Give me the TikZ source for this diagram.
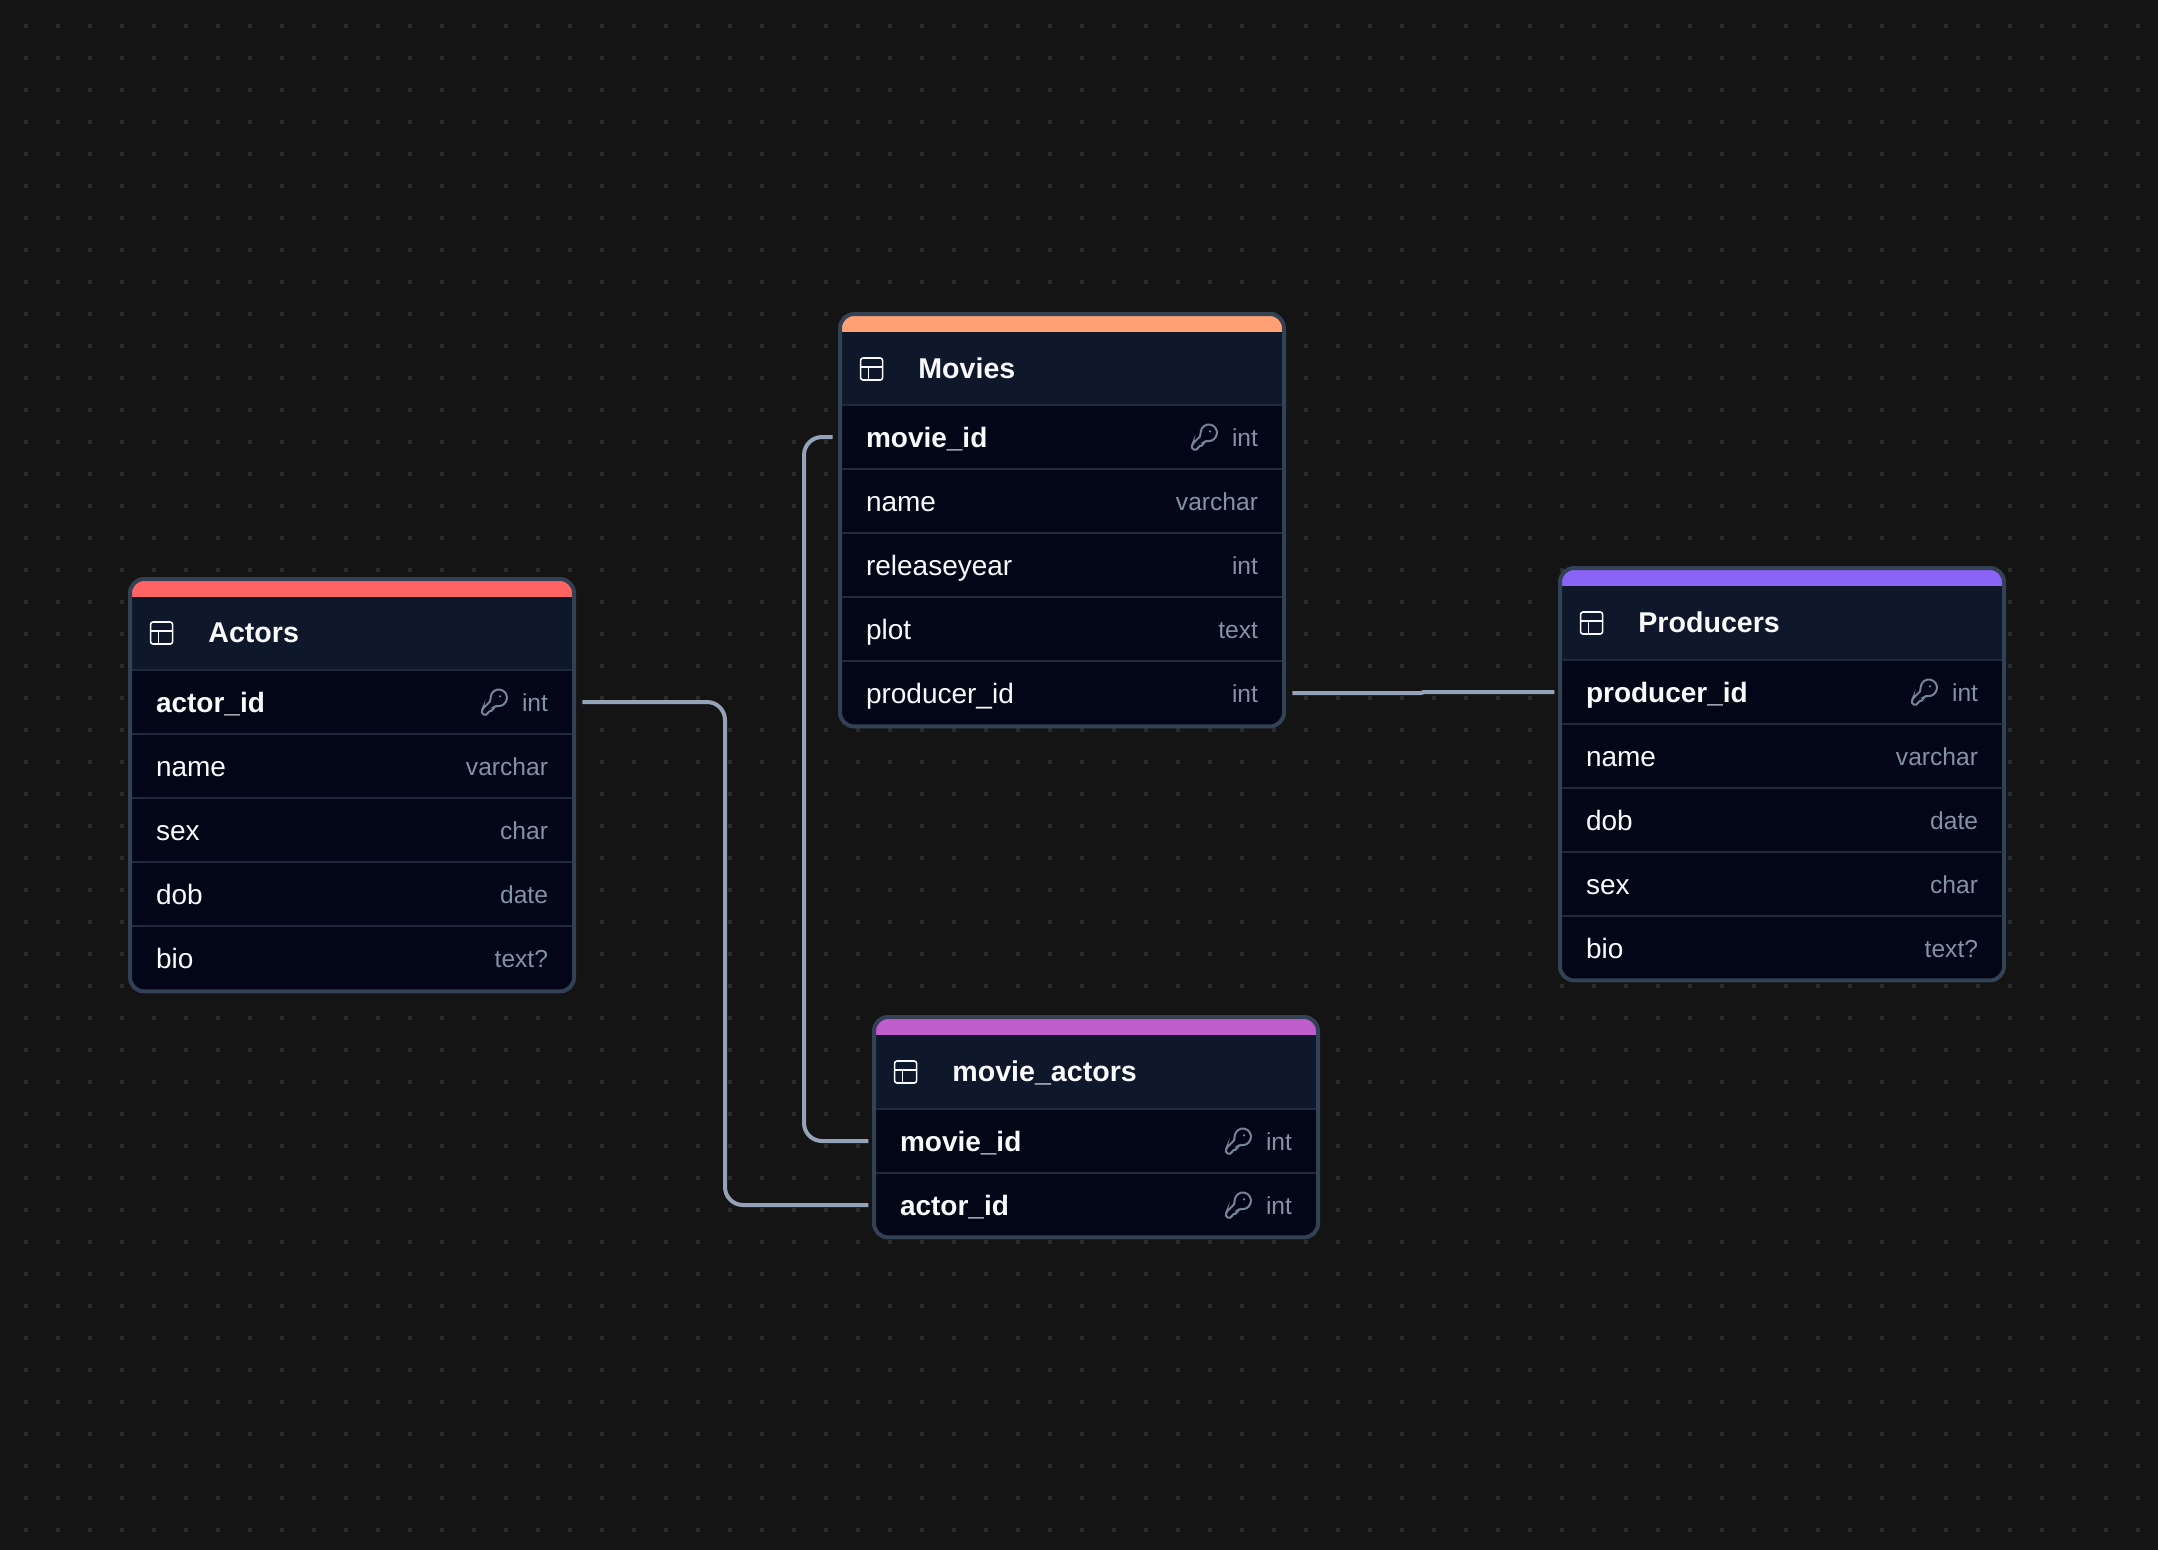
\documentclass[tikz,border=0pt]{standalone}
\usepackage{fontspec}
\setmainfont{Liberation Sans}
\definecolor{canvasbg}{HTML}{141414}
\definecolor{gridgray}{HTML}{2B2B2B}
\definecolor{rowbg}{HTML}{020617}
\definecolor{headbg}{HTML}{0F172A}
\definecolor{frameline}{HTML}{334155}
\definecolor{rowline}{HTML}{1E293B}
\definecolor{relline}{HTML}{94A3B8}
\definecolor{typegray}{HTML}{8492A6}
\definecolor{iconkey}{HTML}{76849A}
\definecolor{namewhite}{HTML}{F8FAFC}
\definecolor{acRed}{HTML}{FF6363}
\definecolor{acOrange}{HTML}{FF9F74}
\definecolor{acViolet}{HTML}{8B63F6}
\definecolor{acPink}{HTML}{C05CCC}
\tikzset{
  keyicon/.pic={
    \begin{scope}[x=.625pt,y=-.625pt,shift={(-12,-12)},draw=iconkey,line width=1pt,rounded corners=.9pt]
      \draw (2.6,17.4) -- (2,18.8) -- (2,22) -- (7,22) -- (7,19) -- (11,19) -- (11,16)
        -- (13,15.6) -- (14.4,14.9) arc[start angle=100,end angle=-199,radius=6.5] -- cycle;
      \fill[iconkey] (16.5,7.5) circle[radius=1];
    \end{scope}
  },
  tableicon/.pic={
    \draw[namewhite,line width=.8pt,rounded corners=1.2pt] (-11,-11) rectangle (11,11);
    \draw[namewhite,line width=.8pt] (-11,-2) -- (11,-2) (-3,-2) -- (-3,11);
  }
}
\begin{document}
\begin{tikzpicture}[x=.5pt,y=-.5pt,
    tbl/.style={draw=frameline,fill=rowbg,line width=2pt,rounded corners=7pt,
      minimum width=222pt,inner sep=0pt,
      path picture={
        \fill[headbg,sharp corners] (path picture bounding box.north west) rectangle
          ([yshift=-45.5pt]path picture bounding box.north east);
        \fill[#1,sharp corners] (path picture bounding box.north west) rectangle
          ([yshift=-8.75pt]path picture bounding box.north east);}},
    fieldrow/.style={minimum width=224pt,minimum height=32pt,inner sep=0pt},
    headrow/.style={minimum width=224pt,minimum height=36pt,inner sep=0pt},
    title/.style={anchor=base west,inner sep=0pt,text=namewhite,font=\fontsize{14.3}{16}\selectfont\bfseries},
    keyname/.style={anchor=base west,inner sep=0pt,text=namewhite,font=\fontsize{14}{16}\selectfont\bfseries},
    fieldname/.style={anchor=base west,inner sep=0pt,text=namewhite,font=\fontsize{14}{16}\selectfont},
    fieldtype/.style={anchor=base east,inner sep=0pt,text=typegray,font=\fontsize{12.3}{14}\selectfont},
    sep/.style={draw=rowline,line width=1pt,shorten <=2pt,shorten >=2pt},
    rel/.style={draw=relline,line width=2pt,rounded corners=9pt,shorten <=3pt,shorten >=1.6pt}]

  % the canvas and its dots
  \useasboundingbox (0,0) rectangle (2158,1549);
  \fill[canvasbg] (-4,-4) rectangle (2162,1553);
  \foreach \i in {0,...,66}
    \foreach \j in {0,...,47}
      \fill[gridgray] (24+32*\i,24+32*\j) rectangle ++(4,4);

  % the frames
  \node[tbl=acRed,minimum height=206.2pt] (actors) at (352,785.2) {};
  \node[tbl=acOrange,minimum height=206.2pt] (movies) at (1062,520.2) {};
  \node[tbl=acViolet,minimum height=206.2pt] (producers) at (1782,774.2) {};
  \node[tbl=acPink,minimum height=110.2pt] (movieactors) at (1096,1127.2) {};

  % the headers
  \node[headrow] (ah) at (352,633) {};
  \node[headrow] (mh) at (1062,369) {};
  \node[headrow] (ph) at (1782,623) {};
  \node[headrow] (jh) at (1096,1072) {};
  \foreach \h/\htext in {ah/Actors,mh/Movies,ph/Producers,jh/movie\_actors} {
    \pic at ([xshift=17pt]\h.west) {tableicon};
    \node[title] (\h t) at ([xshift=40.2pt,yshift=-4.75pt]\h.west) {\htext};
  }

  % the rows
  \foreach \r/\rx/\ry in {a1/352/702,m1/1062/437,p1/1782/692,j1/1096/1141,j2/1096/1205} {
    \node[fieldrow] (\r) at (\rx,\ry) {};
    \draw[sep] (\r.north west) -- (\r.north east);
    \pic at ([xshift=-41pt]\r.east) {keyicon};
    \node[fieldtype] (\r type) at ([xshift=-14pt,yshift=-4.6pt]\r.east) {int};
  }
  \node[keyname] (a1name) at ([xshift=14pt,yshift=-5.25pt]a1.west) {actor\_id};
  \node[keyname] (m1name) at ([xshift=14pt,yshift=-5.25pt]m1.west) {movie\_id};
  \node[keyname] (p1name) at ([xshift=14pt,yshift=-5.25pt]p1.west) {producer\_id};
  \node[keyname] (j1name) at ([xshift=14pt,yshift=-5.25pt]j1.west) {movie\_id};
  \node[keyname] (j2name) at ([xshift=14pt,yshift=-5.25pt]j2.west) {actor\_id};

  \foreach \r/\rx/\ry/\rname/\rtype in {
      a2/352/766/name/varchar,a3/352/830/sex/char,a4/352/894/dob/date,a5/352/958/bio/text?,
      m2/1062/501/name/varchar,m3/1062/565/releaseyear/int,m4/1062/629/plot/text,m5/1062/693/producer\_id/int,
      p2/1782/756/name/varchar,p3/1782/820/dob/date,p4/1782/884/sex/char,p5/1782/948/bio/text?} {
    \node[fieldrow] (\r) at (\rx,\ry) {};
    \draw[sep] (\r.north west) -- (\r.north east);
    \node[fieldname] (\r name) at ([xshift=14pt,yshift=-5.25pt]\r.west) {\rname};
    \node[fieldtype] (\r type) at ([xshift=-14pt,yshift=-4.6pt]\r.east) {\rtype};
  }

  % the relations
  \coordinate (busa) at (725,950);
  \coordinate (busm) at (804,800);
  \coordinate (stepa) at (1421,693);
  \coordinate (stepb) at (1424,692);
  \draw[rel] (a1.east) -| (busa) |- (j2.west);
  \draw[rel,shorten <=2.5pt] (m1.west) -| (busm) |- (j1.west);
  \draw[rel,rounded corners=0pt] (m5.east) -- (stepa) -- (stepb) -- (p1.west);
\end{tikzpicture}
\end{document}
